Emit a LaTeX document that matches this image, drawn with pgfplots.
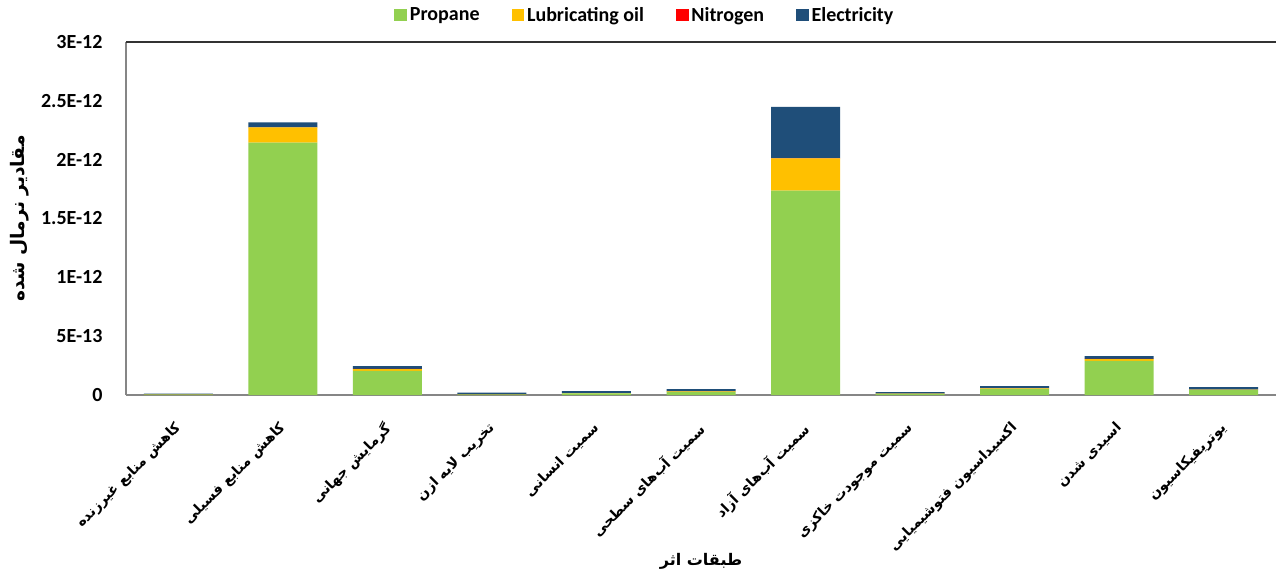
\documentclass[border=0pt]{standalone}
\usepackage{fontspec}
\usepackage{pgfplots}
\pgfplotsset{compat=1.18}
\setmainfont{Carlito}
\newfontfamily\fa[Script=Arabic]{DejaVu Sans}
\TeXXeTstate=1
\newcommand{\yt}[1]{\mbox{\fontsize{15}{17}\selectfont\bfseries #1}}

\definecolor{cProp}{HTML}{92D050}
\definecolor{cLub}{HTML}{FFC000}
\definecolor{cNit}{HTML}{FF0000}
\definecolor{cEle}{HTML}{1F4E79}
\definecolor{axgray}{HTML}{868686}

% normalised impact values per category (propane, lubricating oil, nitrogen, electricity)
\pgfplotstableread{
x  prop      lub       nit      ele
0  0.004e-12 0.002e-12 0.000e-12 0.006e-12
1  2.144e-12 0.130e-12 0.001e-12 0.042e-12
2  0.205e-12 0.014e-12 0.002e-12 0.025e-12
3  0.004e-12 0.002e-12 0.000e-12 0.014e-12
4  0.014e-12 0.003e-12 0.000e-12 0.017e-12
5  0.026e-12 0.004e-12 0.001e-12 0.020e-12
6  1.736e-12 0.275e-12 0.003e-12 0.435e-12
7  0.008e-12 0.004e-12 0.000e-12 0.013e-12
8  0.050e-12 0.007e-12 0.000e-12 0.019e-12
9  0.291e-12 0.014e-12 0.001e-12 0.025e-12
10 0.042e-12 0.003e-12 0.000e-12 0.023e-12
}\impacts

\begin{document}
\begin{tikzpicture}
\path[use as bounding box] (-94.5pt,-139.5pt) rectangle (862.5pt,296.25pt);
\begin{axis}[
  at={(0,0)}, anchor=south west,
  scale only axis, width=862.5pt, height=264.75pt,
  ybar stacked, bar width=51.75pt,
  xmin=-0.5, xmax=10.5, ymin=0, ymax=3e-12,
  axis x line*=bottom, axis y line*=left,
  axis line style={-, axgray, line width=1.1pt},
  major tick length=0pt,
  scaled y ticks=false,
  ytick={0,5e-13,1e-12,1.5e-12,2e-12,2.5e-12,3e-12},
  yticklabels={\yt{0},\yt{5E-13},\yt{1E-12},\yt{1.5E-12},\yt{2E-12},\yt{2.5E-12},\yt{3E-12}},
  yticklabel style={anchor=east, inner sep=0pt, xshift=-17.5pt},
  xtick={0,...,10},
  xticklabels={
    {\fa\bfseries\beginR کاهش منابع غیرزنده\endR},
    {\fa\bfseries\beginR کاهش منابع فسیلی\endR},
    {\fa\bfseries\beginR گرمایش جهانی\endR},
    {\fa\bfseries\beginR تخریب لایه ازن\endR},
    {\fa\bfseries\beginR سمیت انسانی\endR},
    {\fa\bfseries\beginR سمیت آب‌های سطحی\endR},
    {\fa\bfseries\beginR سمیت آب‌های آزاد\endR},
    {\fa\bfseries\beginR سمیت موجودت خاکزی\endR},
    {\fa\bfseries\beginR اکسیداسیون فتوشیمیایی\endR},
    {\fa\bfseries\beginR اسیدی شدن\endR},
    {\fa\bfseries\beginR یوتریفیکاسیون\endR}},
  xticklabel style={font=\fontsize{10.5}{12}\selectfont, rotate=45, anchor=north east, inner sep=0pt, yshift=-11pt, xshift=-16pt},
  ylabel={\fa\bfseries\beginR مقادیر نرمال شده\endR},
  ylabel style={font=\fontsize{14}{16}\selectfont, at={(axis description cs:-0.0922,0.5)}, anchor=center},
  xlabel={\fa\bfseries\beginR طبقات اثر\endR},
  xlabel style={font=\fontsize{12}{14}\selectfont, at={(axis description cs:0.5,-0.47)}, anchor=center},
  legend columns=4,
  legend style={at={(axis description cs:0.4515,1.0765)}, anchor=center, draw=none, fill=none,
    font=\fontsize{15}{17}\selectfont\bfseries, inner sep=0pt,
    /tikz/every even column/.append style={column sep=22pt}},
  legend image code/.code={\fill[#1] (0pt,-4.8pt) rectangle (9.6pt,4.8pt);},
  every axis plot/.append style={draw=none},
]
\addplot[fill=cProp] table[x=x, y=prop] {\impacts};
\addplot[fill=cLub]  table[x=x, y=lub]  {\impacts};
\addplot[fill=cNit]  table[x=x, y=nit]  {\impacts};
\addplot[fill=cEle]  table[x=x, y=ele]  {\impacts};
\legend{Propane, Lubricating oil, Nitrogen, Electricity}
\draw[black!80, line width=1.3pt] (rel axis cs:0,1) -- (rel axis cs:1,1);
\end{axis}
\end{tikzpicture}
\end{document}
